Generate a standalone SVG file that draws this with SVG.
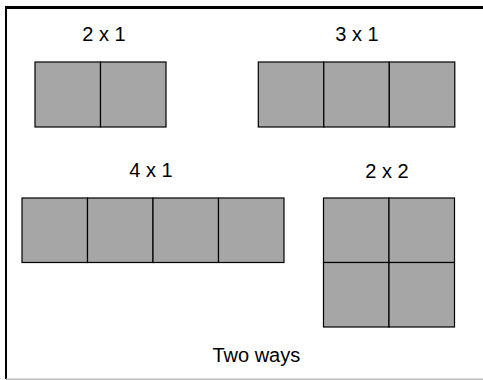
<svg xmlns="http://www.w3.org/2000/svg" width="483" height="380" viewBox="0 0 483 380">
<style>
.c{fill:#a6a6a6;stroke:#000;stroke-width:1.2}
.t{font-family:"Liberation Sans",Arial,sans-serif;font-size:20px;fill:#000;text-anchor:middle}
</style>
<rect width="483" height="380" fill="#fff"/>
<g id="frame">
<line x1="6" y1="7.5" x2="483" y2="7.5" stroke="#000" stroke-width="3"/>
<line x1="6" y1="6" x2="6" y2="379" stroke="#000" stroke-width="2"/>
<line x1="6" y1="379.3" x2="483" y2="379.3" stroke="#bbb" stroke-width="1.4"/>
</g>
<g id="n2x1">
<rect class="c" x="35" y="62" width="65.5" height="65"/>
<rect class="c" x="100.5" y="62" width="65.5" height="65"/>
<text class="t" x="104" y="41">2 x 1</text>
</g>
<g id="n3x1">
<rect class="c" x="258.3" y="62" width="65.5" height="65"/>
<rect class="c" x="323.8" y="62" width="65.5" height="65"/>
<rect class="c" x="389.3" y="62" width="65.5" height="65"/>
<text class="t" x="357" y="41">3 x 1</text>
</g>
<g id="n4x1">
<rect class="c" x="22" y="198" width="65.5" height="64.5"/>
<rect class="c" x="87.5" y="198" width="65.5" height="64.5"/>
<rect class="c" x="153" y="198" width="65.5" height="64.5"/>
<rect class="c" x="218.5" y="198" width="65.5" height="64.5"/>
<text class="t" x="151" y="177">4 x 1</text>
</g>
<g id="n2x2">
<rect class="c" x="323.5" y="198" width="65.5" height="64.5"/>
<rect class="c" x="389" y="198" width="65.5" height="64.5"/>
<rect class="c" x="323.5" y="262.5" width="65.5" height="64.5"/>
<rect class="c" x="389" y="262.5" width="65.5" height="64.5"/>
<text class="t" x="387" y="177.5">2 x 2</text>
</g>
<g id="caption">
<text class="t" x="256.3" y="361.5">Two ways</text>
</g>
<g id="connectors"/>
</svg>
